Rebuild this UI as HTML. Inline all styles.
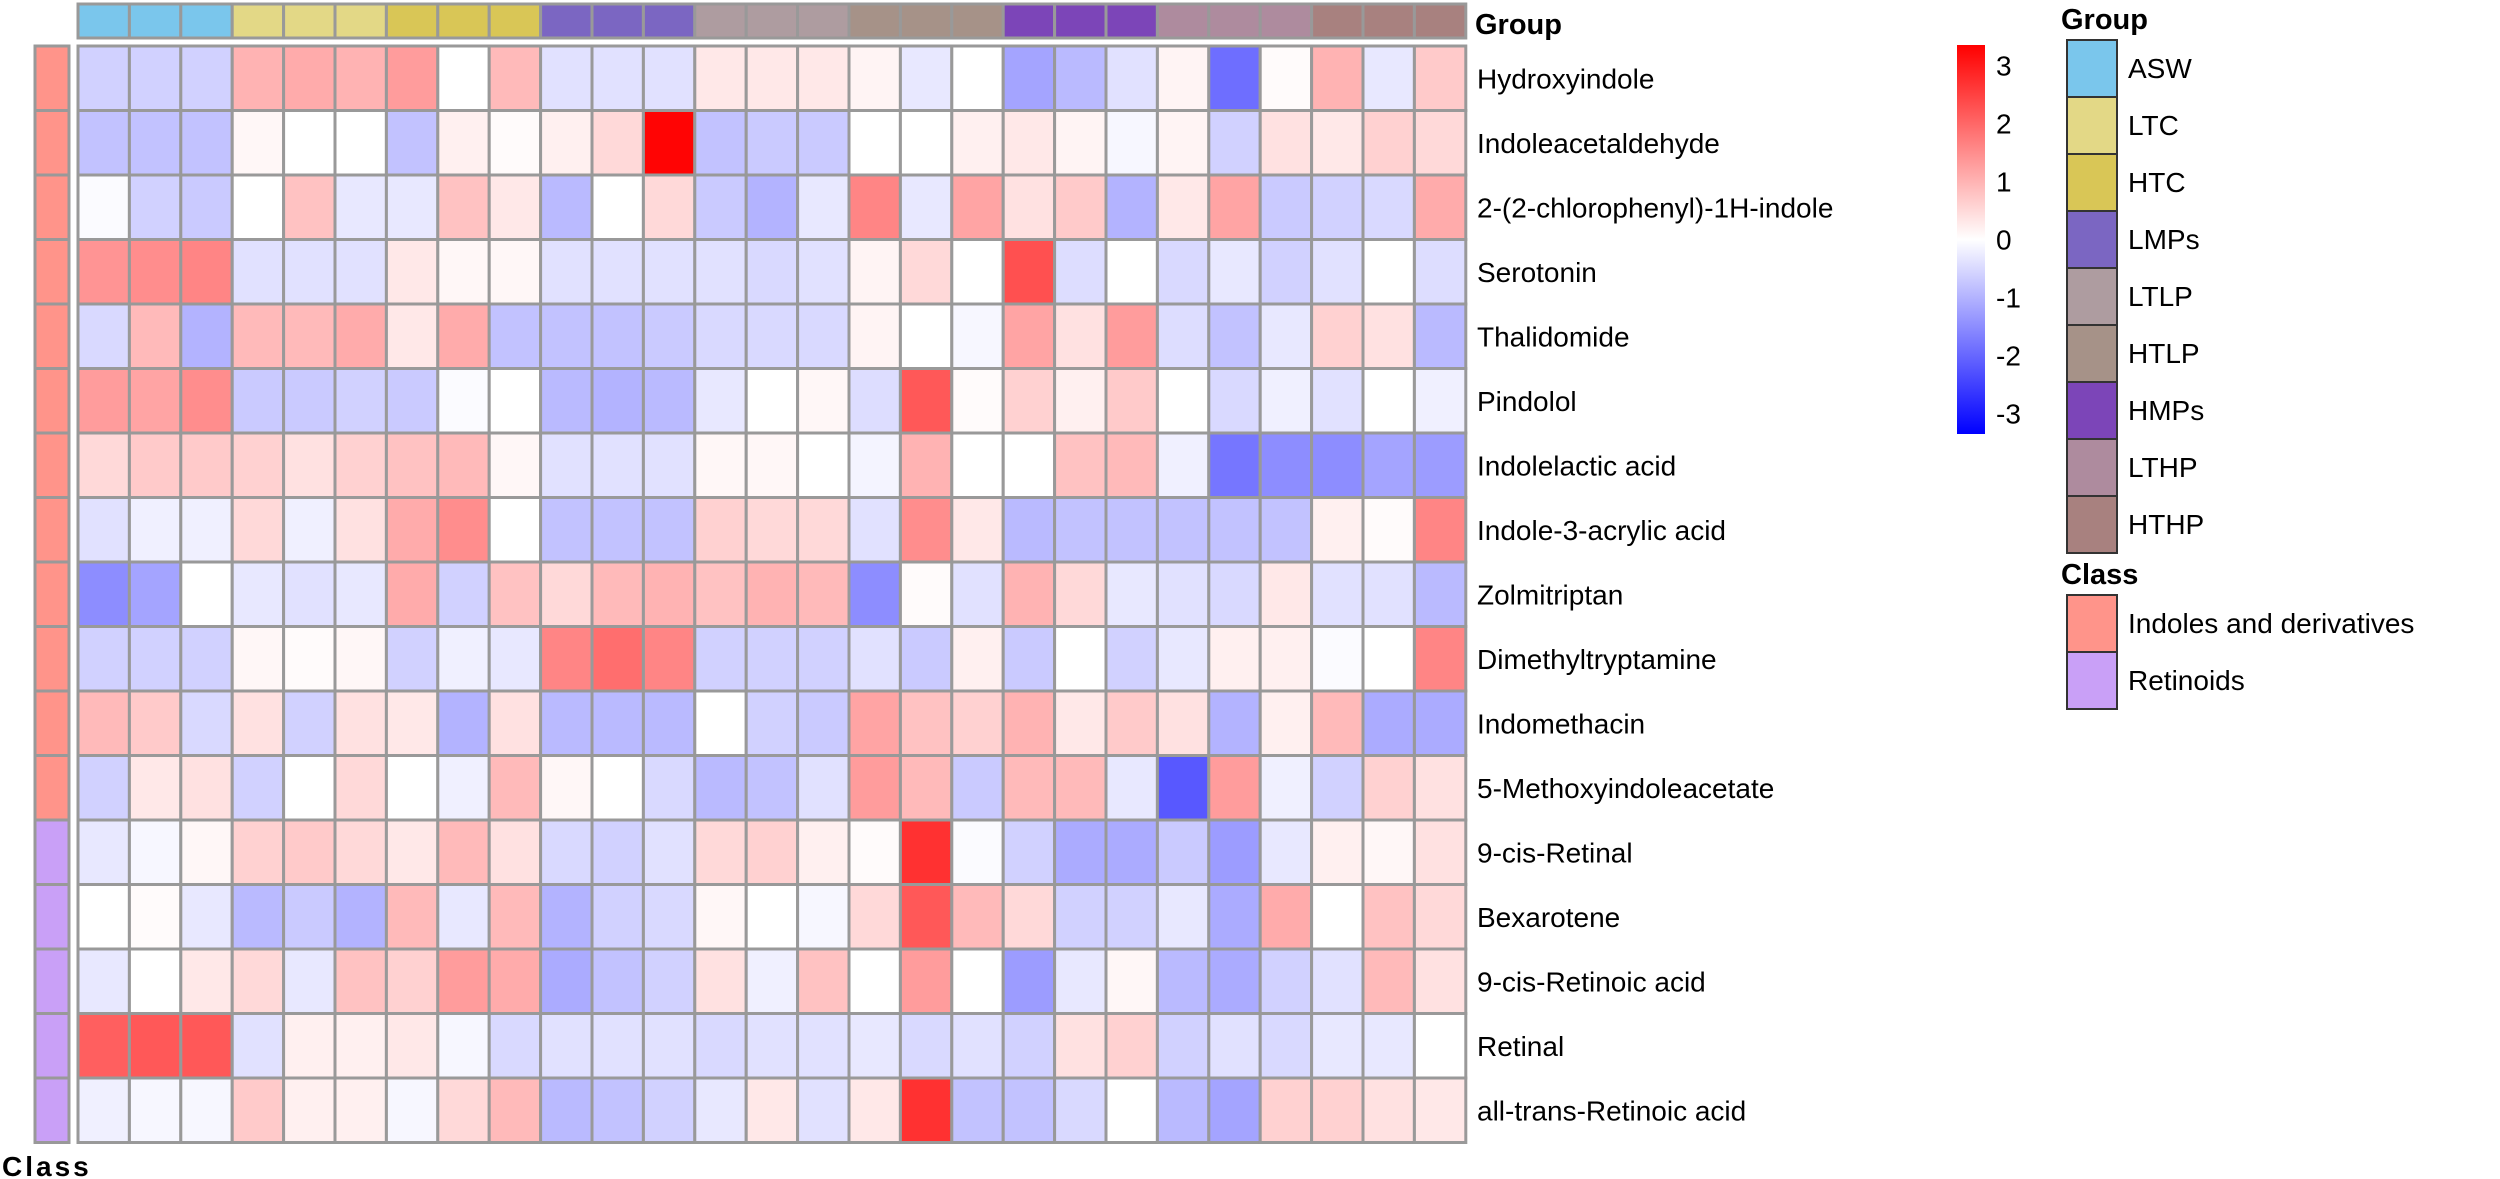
<!DOCTYPE html>
<html><head><meta charset="utf-8"><style>
html,body{margin:0;padding:0;background:#fff}
svg{display:block;font-family:"Liberation Sans",Arial,sans-serif}
</style></head><body>
<svg id="chart" width="2500" height="1179" viewBox="0 0 2500 1179" xmlns="http://www.w3.org/2000/svg">
<g id="cells"></g>
<g id="groupbar"></g>
<g id="classbar"></g>
<g id="rowlabels"></g>
<text x="1475" y="34" font-size="29" font-weight="bold">Group</text>
<text x="2" y="1176" font-size="28" font-weight="bold" letter-spacing="3">Class</text>
<g id="colorbar"></g>
<g id="legend"></g>
</svg>
<script>
const rowNames=["Hydroxyindole","Indoleacetaldehyde","2-(2-chlorophenyl)-1H-indole","Serotonin","Thalidomide","Pindolol","Indolelactic acid","Indole-3-acrylic acid","Zolmitriptan","Dimethyltryptamine","Indomethacin","5-Methoxyindoleacetate","9-cis-Retinal","Bexarotene","9-cis-Retinoic acid","Retinal","all-trans-Retinoic acid"];
const rowClass=[0,0,0,0,0,0,0,0,0,0,0,0,1,1,1,1,1];
const groupNames=["ASW","LTC","HTC","LMPs","LTLP","HTLP","HMPs","LTHP","HTHP"];
const groupColors=["#7AC6EC","#E3D886","#D9C656","#7B66C2","#AE9CA0","#A69288","#7C45B8","#AE8B9E","#A8817F"];
const classNames=["Indoles and derivatives","Retinoids"];
const classColors=["#FF948A","#C9A0F7"];
const colGroup=[0,0,0,1,1,1,2,2,2,3,3,3,4,4,4,5,5,5,6,6,6,7,7,7,8,8,8];
const scaleTicks=[3,2,1,0,-1,-2,-3];
const values=[
[-0.6,-0.6,-0.6,1,1.1,1,1.3,0,0.9,-0.4,-0.4,-0.4,0.3,0.3,0.3,0.15,-0.3,0,-1.2,-0.9,-0.4,0.15,-1.9,0.05,1.0,-0.3,0.7],
[-0.8,-0.8,-0.8,0.1,0,0,-0.8,0.2,0.05,0.2,0.5,3.3,-0.8,-0.7,-0.7,0,0,0.2,0.3,0.15,-0.1,0.15,-0.6,0.4,0.3,0.6,0.5],
[-0.05,-0.6,-0.7,0,0.8,-0.3,-0.3,0.8,0.3,-0.9,0,0.5,-0.7,-1,-0.3,1.6,-0.3,1.2,0.4,0.7,-1.0,0.3,1.2,-0.7,-0.6,-0.5,1.1],
[1.4,1.5,1.6,-0.4,-0.4,-0.4,0.3,0.1,0.1,-0.4,-0.4,-0.4,-0.4,-0.5,-0.4,0.15,0.5,0,2.3,-0.45,0,-0.5,-0.3,-0.6,-0.4,0,-0.45],
[-0.5,0.9,-1,0.9,0.9,1.1,0.3,1.1,-0.8,-0.8,-0.8,-0.7,-0.5,-0.5,-0.5,0.15,0,-0.1,1.2,0.4,1.3,-0.45,-0.8,-0.3,0.6,0.4,-0.9],
[1.3,1.2,1.5,-0.7,-0.7,-0.6,-0.7,-0.05,0,-0.9,-1,-0.9,-0.3,0,0.1,-0.45,2.2,0.05,0.6,0.2,0.7,0,-0.5,-0.2,-0.4,0,-0.2],
[0.5,0.7,0.7,0.6,0.4,0.6,0.8,0.9,0.1,-0.4,-0.4,-0.4,0.1,0.1,0,-0.15,1.0,0,0,0.8,0.9,-0.2,-1.8,-1.5,-1.5,-1.2,-1.3],
[-0.4,-0.2,-0.2,0.5,-0.2,0.4,1.1,1.5,0,-0.8,-0.8,-0.8,0.6,0.5,0.5,-0.4,1.5,0.3,-0.9,-0.8,-0.8,-0.8,-0.8,-0.8,0.2,0.05,1.6],
[-1.5,-1.2,0,-0.3,-0.4,-0.3,1.1,-0.6,0.8,0.5,0.9,1,0.8,1,0.9,-1.5,0.05,-0.4,1.0,0.5,-0.3,-0.4,-0.5,0.3,-0.4,-0.4,-0.9],
[-0.6,-0.6,-0.6,0.1,0.05,0.1,-0.6,-0.2,-0.3,1.6,1.9,1.6,-0.6,-0.6,-0.6,-0.4,-0.7,0.2,-0.7,0,-0.6,-0.3,0.2,0.2,-0.05,0,1.6],
[0.9,0.7,-0.5,0.4,-0.6,0.4,0.3,-1,0.4,-0.9,-0.9,-0.9,0,-0.6,-0.7,1.2,0.8,0.6,1.0,0.3,0.7,0.4,-1.0,0.2,0.9,-1.1,-1.1],
[-0.6,0.3,0.4,-0.6,0,0.5,0,-0.2,0.9,0.1,0,-0.5,-0.9,-0.8,-0.4,1.3,0.9,-0.7,0.9,0.9,-0.3,-2.2,1.3,-0.2,-0.6,0.6,0.4],
[-0.3,-0.1,0.1,0.6,0.7,0.5,0.3,0.9,0.4,-0.5,-0.6,-0.4,0.5,0.6,0.2,0.05,2.7,-0.05,-0.6,-1.1,-1.1,-0.7,-1.3,-0.3,0.2,0.1,0.4],
[0,0.05,-0.3,-0.9,-0.7,-1,0.9,-0.3,0.9,-1,-0.6,-0.5,0.1,0,-0.1,0.5,2.2,0.9,0.5,-0.6,-0.6,-0.3,-1.1,1.1,0,0.8,0.5],
[-0.3,0,0.3,0.5,-0.3,0.8,0.6,1.3,1.1,-1.1,-0.8,-0.6,0.4,-0.2,0.8,0,1.3,0,-1.3,-0.3,0.1,-0.9,-1.1,-0.6,-0.4,0.9,0.4],
[2.1,2.2,2.2,-0.4,0.2,0.2,0.3,-0.1,-0.5,-0.4,-0.4,-0.4,-0.5,-0.4,-0.4,-0.3,-0.5,-0.4,-0.6,0.4,0.6,-0.6,-0.4,-0.5,-0.3,-0.3,0],
[-0.2,-0.1,-0.1,0.7,0.2,0.2,-0.1,0.5,0.9,-0.9,-0.8,-0.6,-0.3,0.3,-0.4,0.3,2.7,-0.8,-0.8,-0.5,0,-0.9,-1.2,0.6,0.6,0.4,0.3]
];
const NS="http://www.w3.org/2000/svg";
const X0=78,CW=51.4,Y0=46,RH=64.5,VMAX=3.35;
const xPos=c=>X0+c*CW, yPos=r=>Y0+r*RH;
function color(v){const t=Math.max(-1,Math.min(1,v/VMAX));
 if(t>=0){const k=Math.round(255*(1-t));return `rgb(255,${k},${k})`;}
 const k=Math.round(255*(1+t));return `rgb(${k},${k},255)`;}
function mk(tag,attrs,parent){const e=document.createElementNS(NS,tag);for(const k in attrs)e.setAttribute(k,attrs[k]);parent.appendChild(e);return e;}
const cells=document.getElementById('cells');
values.forEach((row,r)=>row.forEach((v,c)=>{
 const e=mk('rect',{x:xPos(c),y:yPos(r),width:CW,height:RH,fill:color(v),stroke:'#999',"stroke-width":3},cells);
 
 
}));
const gb=document.getElementById('groupbar');
colGroup.forEach((g,c)=>{
 const e=mk('rect',{x:xPos(c),y:4,width:CW,height:34,fill:groupColors[g],stroke:'#999',"stroke-width":3},gb);
 
 
});
const cb=document.getElementById('classbar');
const rl=document.getElementById('rowlabels');
rowClass.forEach((k,r)=>{
 const e=mk('rect',{x:35,y:yPos(r),width:34,height:RH,fill:classColors[k],stroke:'#999',"stroke-width":3},cb);
 
 
 const t=mk('text',{x:1477,y:yPos(r)+RH/2+10,"font-size":28,fill:'#000'},rl);
 t.textContent=rowNames[r];
 
 
});
const cbar=document.getElementById('colorbar');
const defs=mk('defs',{},cbar);
const lg=mk('linearGradient',{id:'gr',x1:0,y1:0,x2:0,y2:1},defs);
[[0,'#ff0000'],[0.5,'#ffffff'],[1,'#0000ff']].forEach(s=>mk('stop',{offset:s[0],"stop-color":s[1]},lg));
const CBT=45,CBB=434;
const bar=mk('rect',{x:1957,y:CBT,width:28,height:CBB-CBT,fill:'url(#gr)'},cbar);


const sy=v=>(CBT+CBB)/2-v/VMAX*(CBB-CBT)/2;
scaleTicks.forEach(v=>{
 const t=mk('text',{x:1996,y:sy(v)+10,"font-size":28},cbar);
 t.textContent=String(v);
 
 
});
const L=document.getElementById('legend');
let tt=mk('text',{x:2061,y:29,"font-size":29,"font-weight":"bold"},L);tt.textContent='Group';
groupNames.forEach((n,i)=>{
 const y=40+i*57;
 const e=mk('rect',{x:2067,y:y,width:50,height:57,fill:groupColors[i],stroke:'#333',"stroke-width":2},L);
 
 
 const t=mk('text',{x:2128,y:y+38,"font-size":28},L);t.textContent=n;
});
tt=mk('text',{x:2061,y:584,"font-size":29,"font-weight":"bold"},L);tt.textContent='Class';
classNames.forEach((n,i)=>{
 const y=595+i*57;
 const e=mk('rect',{x:2067,y:y,width:50,height:57,fill:classColors[i],stroke:'#333',"stroke-width":2},L);
 
 
 const t=mk('text',{x:2128,y:y+38,"font-size":28},L);t.textContent=n;
});
</script>
</body></html>
